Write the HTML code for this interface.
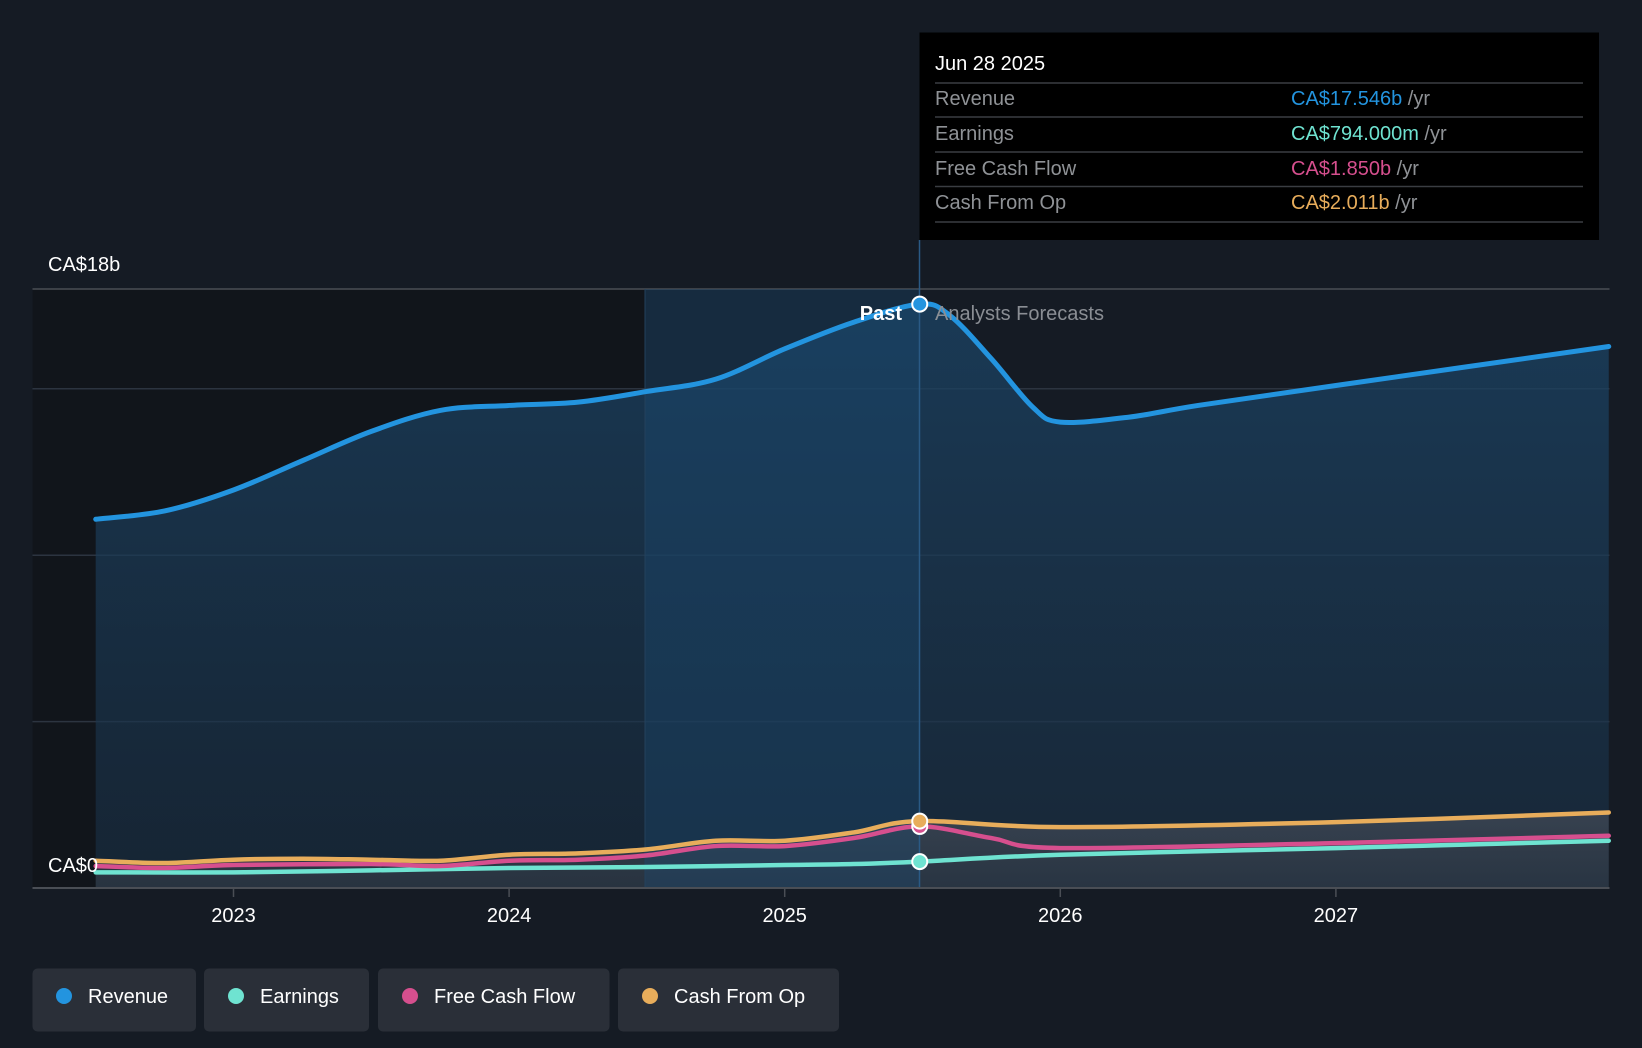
<!DOCTYPE html>
<html><head><meta charset="utf-8"><style>
html,body{margin:0;padding:0;background:#151b24;}
svg{display:block;font-family:"Liberation Sans",sans-serif;}
</style></head><body>
<svg id="chart" width="1642" height="1048" viewBox="0 0 1642 1048">
<defs>
<linearGradient id="revFill" x1="0" y1="0" x2="0" y2="1"><stop offset="0" stop-color="#1b4466" stop-opacity="0.75"/><stop offset="1" stop-color="#1a2f44" stop-opacity="0.6"/></linearGradient>
<linearGradient id="lowFill" x1="0" y1="0" x2="0" y2="1"><stop offset="0" stop-color="#6a6a72" stop-opacity="0.7"/><stop offset="1" stop-color="#55585f" stop-opacity="0.5"/></linearGradient>
</defs>
<rect x="0" y="0" width="1642" height="1048" fill="#151b24"/>
<rect x="32.5" y="289" width="612.5" height="599" fill="#11151b"/>
<g id="grid"></g>
<g id="areas"></g>
<rect x="645" y="289" width="274.5" height="599" fill="#1a4a73" opacity="0.35"/>
<line x1="645" y1="289" x2="645" y2="888" stroke="#23415c" stroke-width="1"/>
<line x1="919.5" y1="240" x2="919.5" y2="888" stroke="#2a5a85" stroke-width="1.5"/>
<g id="lines"></g>
<g id="axis"></g>
<text x="48" y="271" fill="#ffffff" font-size="20">CA$18b</text>
<text x="48" y="872" fill="#ffffff" font-size="20">CA$0</text>
<text x="902" y="320" fill="#ffffff" font-size="20" font-weight="bold" text-anchor="end">Past</text>
<text x="935" y="320" fill="#8a8e94" font-size="20">Analysts Forecasts</text>
<g id="dots"></g>

<g>
<rect x="919.5" y="32.5" width="679.5" height="207.5" fill="#000000"/>
<text x="935" y="70" fill="#ffffff" font-size="20">Jun 28 2025</text>
<g stroke="#3a3d42" stroke-width="1.5">
<line x1="935" y1="83" x2="1583" y2="83"/><line x1="935" y1="117" x2="1583" y2="117"/><line x1="935" y1="152" x2="1583" y2="152"/><line x1="935" y1="186.5" x2="1583" y2="186.5"/><line x1="935" y1="222" x2="1583" y2="222"/>
</g>
<g font-size="20" fill="#8f9296">
<text x="935" y="105">Revenue</text>
<text x="935" y="140">Earnings</text>
<text x="935" y="175">Free Cash Flow</text>
<text x="935" y="209">Cash From Op</text>
</g>
<g font-size="20">
<text x="1291" y="105"><tspan fill="#2394df">CA$17.546b</tspan><tspan fill="#8f9296"> /yr</tspan></text>
<text x="1291" y="140"><tspan fill="#6fe3d1">CA$794.000m</tspan><tspan fill="#8f9296"> /yr</tspan></text>
<text x="1291" y="175"><tspan fill="#d64f8e">CA$1.850b</tspan><tspan fill="#8f9296"> /yr</tspan></text>
<text x="1291" y="209"><tspan fill="#e8ad5b">CA$2.011b</tspan><tspan fill="#8f9296"> /yr</tspan></text>
</g>
</g>

<g font-size="20" fill="#ffffff">
<g><rect x="32.5" y="968.5" width="163.5" height="63" rx="5" fill="#2a2f38"/><circle cx="64" cy="996" r="8" fill="#2394df"/><text x="88" y="1003">Revenue</text></g>
<g><rect x="204" y="968.5" width="165" height="63" rx="5" fill="#2a2f38"/><circle cx="236" cy="996" r="8" fill="#6fe3d1"/><text x="260" y="1003">Earnings</text></g>
<g><rect x="378" y="968.5" width="231.5" height="63" rx="5" fill="#2a2f38"/><circle cx="410" cy="996" r="8" fill="#d64f8e"/><text x="434" y="1003">Free Cash Flow</text></g>
<g><rect x="618" y="968.5" width="221" height="63" rx="5" fill="#2a2f38"/><circle cx="650" cy="996" r="8" fill="#e8ad5b"/><text x="674" y="1003">Cash From Op</text></g>
</g>
</svg>
<script>
const revT=[2022.5,2022.75,2023,2023.25,2023.5,2023.75,2024,2024.25,2024.5,2024.75,2025,2025.25,2025.49,2025.6,2025.75,2025.9,2026,2026.25,2026.5,2027,2027.99];
const revV=[11.08,11.33,11.96,12.84,13.72,14.35,14.5,14.6,14.92,15.29,16.2,17.0,17.546,17.2,15.9,14.45,14.0,14.15,14.5,15.1,16.27];
const cfoT=[2022.5,2022.75,2023,2023.25,2023.5,2023.75,2024,2024.25,2024.5,2024.75,2025,2025.25,2025.49,2026,2027,2027.99];
const cfoV=[0.82,0.75,0.85,0.88,0.85,0.82,1.0,1.04,1.16,1.42,1.42,1.67,2.011,1.83,1.98,2.27];
const fcfT=[2022.5,2022.75,2023,2023.5,2023.75,2024,2024.25,2024.5,2024.75,2025,2025.25,2025.49,2025.75,2026,2027,2027.99];
const fcfV=[0.66,0.6,0.69,0.72,0.66,0.82,0.85,0.98,1.26,1.26,1.5,1.85,1.5,1.2,1.35,1.57];
const earT=[2022.5,2023,2023.5,2024,2024.5,2025,2025.25,2025.49,2026,2027,2027.99];
const earV=[0.47,0.47,0.53,0.6,0.63,0.69,0.72,0.794,1.0,1.2,1.42];
const yearTicks=[2023,2024,2025,2026,2027];
const gridVals=[5,10,15,18];
const NOW=2025.49;
const NS="http://www.w3.org/2000/svg";
const X=t=>233.5+(t-2023)*275.6;
const Y=v=>888-v*33.28;
function mk(tag,attrs,parent){const e=document.createElementNS(NS,tag);for(const k in attrs)e.setAttribute(k,attrs[k]);parent.appendChild(e);return e;}
function curve(T,V){const p=T.map((t,i)=>[X(t),Y(V[i])]);let d="M"+p[0][0]+","+p[0][1];
for(let i=0;i<p.length-1;i++){const p0=p[i-1]||p[i],p1=p[i],p2=p[i+1],p3=p[i+2]||p2;
const c1=[p1[0]+(p2[0]-p0[0])/6,p1[1]+(p2[1]-p0[1])/6],c2=[p2[0]-(p3[0]-p1[0])/6,p2[1]-(p3[1]-p1[1])/6];
d+=" C"+c1[0]+","+c1[1]+" "+c2[0]+","+c2[1]+" "+p2[0]+","+p2[1];}return d;}
const grid=document.getElementById('grid');
gridVals.forEach(v=>{const l=mk('line',{x1:32.5,x2:1609.5,y1:Y(v),y2:Y(v),stroke:v===18?'#4a4e55':'#2c3440','stroke-width':1.5},grid);

});
const areas=document.getElementById('areas');
const x0=X(revT[0]),x1=X(revT[revT.length-1]);
const ra=mk('path',{d:curve(revT,revV)+" L"+x1+",888 L"+x0+",888 Z",fill:'url(#revFill)'},areas);


const ca=mk('path',{d:curve(cfoT,cfoV)+" L"+X(cfoT[cfoT.length-1])+",888 L"+X(cfoT[0])+",888 Z",fill:'url(#lowFill)',opacity:0.55},areas);


const lines=document.getElementById('lines');
[[earT,earV,'#6fe3d1','earnings-line'],[fcfT,fcfV,'#d64f8e','free-cash-flow-line'],[cfoT,cfoV,'#e8ad5b','cash-from-op-line'],[revT,revV,'#2394df','revenue-line']].forEach(s=>{
const p=mk('path',{d:curve(s[0],s[1]),fill:'none',stroke:s[2],'stroke-width':s[3]==='revenue-line'?5:4.5,'stroke-linecap':'round'},lines);

});
const axis=document.getElementById('axis');
const al=mk('line',{x1:32.5,x2:1609.5,y1:888,y2:888,stroke:'#4a4e55','stroke-width':2},axis);


yearTicks.forEach(yr=>{const tk=mk('line',{x1:X(yr),x2:X(yr),y1:888,y2:897,stroke:'#4a4e55','stroke-width':1.5},axis);


const t=mk('text',{x:X(yr),y:922,fill:'#ffffff','font-size':20,'text-anchor':'middle'},axis);t.textContent=yr;

});
const dots=document.getElementById('dots');
[[fcfV[fcfT.indexOf(NOW)],'#d64f8e','fcf-marker'],[cfoV[cfoT.indexOf(NOW)],'#e8ad5b','cfo-marker'],[earV[earT.indexOf(NOW)],'#6fe3d1','earnings-marker'],[revV[revT.indexOf(NOW)],'#2394df','revenue-marker']].forEach(d=>{
const c=mk('circle',{cx:X(NOW),cy:Y(d[0]),r:7.5,fill:d[1],stroke:'#ffffff','stroke-width':2},dots);

});
</script>
</body></html>
